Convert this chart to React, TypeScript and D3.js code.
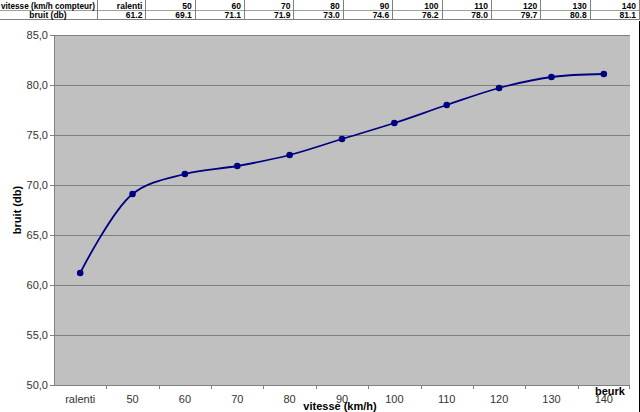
import React from "react";
import * as d3 from "d3";

const categories = ["ralenti", "50", "60", "70", "80", "90", "100", "110", "120", "130", "140"];
const bruit = [61.2, 69.1, 71.1, 71.9, 73.0, 74.6, 76.2, 78.0, 79.7, 80.8, 81.1];
const tableValues = ["61.2", "69.1", "71.1", "71.9", "73.0", "74.6", "76.2", "78.0", "79.7", "80.8", "81.1"];
const yTicks = [50, 55, 60, 65, 70, 75, 80, 85];

const W = 640, H = 412;
const plot = { left: 54, right: 630, top: 35, bottom: 385 };

export default function App() {
  const x = d3.scaleBand<string>().domain(categories).range([plot.left, plot.right]).padding(0);
  const y = d3.scaleLinear().domain([50, 85]).range([plot.bottom, plot.top]);
  const cx = (c: string) => (x(c) as number) + x.bandwidth() / 2;
  const line = d3
    .line<number>()
    .x((_, i) => cx(categories[i]))
    .y((d) => y(d))
    .curve(d3.curveCatmullRom.alpha(0.5));
  const fmt = (v: number) => v.toFixed(1).replace(".", ",");

  const col0 = 97;
  const colW = (W - col0) / categories.length;
  const font = "'Liberation Sans', Arial, sans-serif";

  return (
    <svg
      width={W}
      height={H}
      style={{ position: "absolute", left: 0, top: 0, background: "#fff" }}
      fontFamily={font}
    >
      {/* table */}
      <g fontSize={8.5} fontWeight="bold" fill="#000">
        <line x1={0} x2={W} y1={10.5} y2={10.5} stroke="#a0a0a0" />
        <line x1={0} x2={W} y1={19.5} y2={19.5} stroke="#808080" />
        <line x1={col0 + 0.5} x2={col0 + 0.5} y1={0} y2={20} stroke="#808080" />
        {categories.map((c, i) => (
          <line
            key={"sep" + c}
            x1={Math.round(col0 + colW * (i + 1)) - 0.5}
            x2={Math.round(col0 + colW * (i + 1)) - 0.5}
            y1={0}
            y2={20}
            stroke="#808080"
          />
        ))}
        <text x={1} y={8.5} textLength={94} lengthAdjust="spacingAndGlyphs">vitesse (km/h compteur)</text>
        <text x={48} y={17.5} textAnchor="middle">bruit (db)</text>
        {categories.map((c, i) => (
          <text key={"h" + c} x={col0 + colW * (i + 1) - 4} y={8.5} textAnchor="end">{c}</text>
        ))}
        {tableValues.map((v, i) => (
          <text key={"v" + i} x={col0 + colW * (i + 1) - 4} y={17.5} textAnchor="end">{v}</text>
        ))}
      </g>
      <line x1={639.5} x2={639.5} y1={21} y2={H} stroke="#000" />

      {/* plot area */}
      <rect x={plot.left} y={plot.top} width={plot.right - plot.left} height={plot.bottom - plot.top} fill="#c0c0c0" />
      {yTicks.map((t) => (
        <line key={"g" + t} x1={plot.left} x2={plot.right} y1={Math.round(y(t)) + 0.5} y2={Math.round(y(t)) + 0.5} stroke="#808080" />
      ))}
      {/* axes */}
      <line x1={plot.left + 0.5} x2={plot.left + 0.5} y1={plot.top} y2={plot.bottom} stroke="#808080" />
      <line x1={plot.left} x2={plot.right} y1={plot.bottom + 0.5} y2={plot.bottom + 0.5} stroke="#808080" />
      {yTicks.map((t) => (
        <g key={"yt" + t}>
          <line x1={plot.left - 4} x2={plot.left} y1={Math.round(y(t)) + 0.5} y2={Math.round(y(t)) + 0.5} stroke="#808080" />
          <text x={plot.left - 6} y={y(t) + 4} textAnchor="end" fontSize={11} fill="#333">{fmt(t)}</text>
        </g>
      ))}
      {categories.map((c, i) => (
        <g key={"xt" + c}>
          {i > 0 && (
            <line x1={Math.round(x(c) as number) + 0.5} x2={Math.round(x(c) as number) + 0.5} y1={plot.bottom} y2={plot.bottom + 4} stroke="#808080" />
          )}
          <text x={cx(c)} y={403} textAnchor="middle" fontSize={11} fill="#333">{c}</text>
        </g>
      ))}
      <line x1={plot.right - 0.5} x2={plot.right - 0.5} y1={plot.bottom} y2={plot.bottom + 4} stroke="#808080" />

      {/* series */}
      <path d={line(bruit) || ""} fill="none" stroke="#000080" strokeWidth={1.8} />
      {bruit.map((v, i) => (
        <circle key={"p" + i} cx={cx(categories[i])} cy={y(v)} r={3.3} fill="#000080" />
      ))}

      {/* titles */}
      <text x={340} y={410} textAnchor="middle" fontSize={11} fontWeight="bold" fill="#000">vitesse (km/h)</text>
      <text transform="translate(21,210) rotate(-90)" textAnchor="middle" fontSize={11} fontWeight="bold" fill="#000">bruit (db)</text>
      <text x={610} y={395} textAnchor="middle" fontSize={11} fontWeight="bold" fill="#000">beurk</text>
    </svg>
  );
}
